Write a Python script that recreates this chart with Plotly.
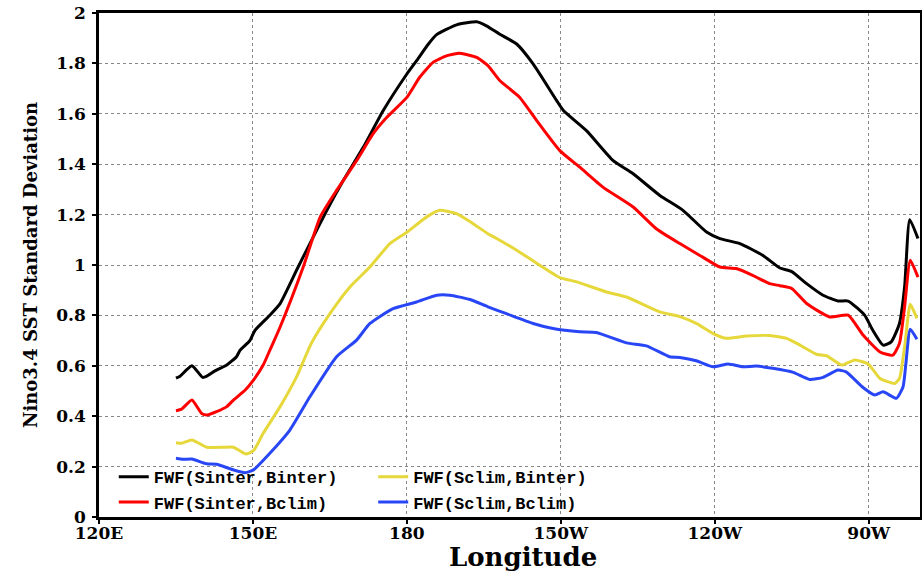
import plotly.graph_objects as go

# Longitude (degrees east) and Nino3.4 SST standard deviation
lon_sinter_binter = [135.0,135.8,138.1,140.2,141.0,142.6,144.9,146.8,147.5,149.4,
                     150.4,153.3,155.3,158.5,161.1,164.4,167.6,171.5,175.4,180.0,
                     181.9,184.2,185.8,189.7,193.6,195.5,198.1,201.4,204.6,209.2,
                     210.5,215.0,220.2,224.1,229.3,233.8,238.4,241.0,244.9,249.4,
                     252.7,255.0,257.9,261.1,264.0,266.0,269.2,270.8,272.8,274.4,
                     276.0,277.0,278.0,279.6]
sd_sinter_binter = [0.551,0.559,0.600,0.554,0.559,0.580,0.603,0.636,0.662,0.700,
                    0.741,0.801,0.847,0.979,1.085,1.217,1.335,1.467,1.613,1.758,
                    1.811,1.877,1.914,1.953,1.965,1.949,1.916,1.877,1.798,1.652,
                    1.613,1.533,1.414,1.362,1.276,1.217,1.131,1.105,1.085,1.038,
                    0.988,0.974,0.926,0.880,0.857,0.857,0.801,0.741,0.682,0.695,
                    0.768,0.913,1.180,1.105]

lon_sinter_bclim = [135.0,136.1,138.1,140.0,141.1,142.9,144.9,146.2,148.5,150.1,
                    152.0,153.3,155.3,159.8,163.1,166.3,170.2,173.4,176.1,180.0,
                    182.5,185.1,187.7,190.3,193.6,195.8,198.1,202.0,205.3,209.8,
                    213.7,218.2,224.1,228.6,233.2,237.1,241.0,244.2,247.4,250.7,
                    252.7,255.0,257.9,262.4,266.0,268.9,272.2,274.7,276.0,277.0,
                    278.1,279.6]
sd_sinter_bclim = [0.422,0.428,0.464,0.411,0.405,0.418,0.438,0.464,0.504,0.543,
                   0.603,0.662,0.754,0.992,1.190,1.296,1.414,1.520,1.586,1.665,
                   1.745,1.804,1.830,1.840,1.824,1.791,1.732,1.665,1.573,1.454,
                   1.388,1.309,1.230,1.144,1.085,1.038,0.992,0.986,0.959,0.926,
                   0.918,0.907,0.847,0.794,0.801,0.722,0.655,0.642,0.689,0.834,
                   1.019,0.952]

lon_sclim_binter = [135.0,136.1,138.1,141.0,144.2,146.2,148.6,150.1,152.0,155.3,
                    158.5,161.4,165.0,168.9,172.8,176.7,180.0,183.8,186.4,189.7,
                    192.9,195.8,197.5,202.0,205.9,209.8,213.1,218.9,222.8,229.3,
                    233.2,236.4,239.7,242.3,246.2,250.7,254.0,256.6,259.8,261.8,
                    264.7,267.3,269.9,272.2,275.1,276.0,277.0,278.1,279.4]
sd_sclim_binter = [0.295,0.293,0.306,0.277,0.277,0.277,0.250,0.263,0.332,0.438,
                   0.556,0.690,0.807,0.913,0.992,1.085,1.130,1.190,1.217,1.204,
                   1.164,1.124,1.105,1.051,0.999,0.950,0.933,0.893,0.873,0.814,
                   0.795,0.768,0.728,0.709,0.718,0.720,0.709,0.682,0.646,0.640,
                   0.603,0.623,0.607,0.550,0.530,0.550,0.675,0.844,0.788]

lon_sclim_bclim = [135.0,136.4,138.1,141.0,142.9,146.2,148.5,150.1,153.3,157.2,
                   161.1,166.3,170.2,172.8,177.3,181.9,185.8,188.4,192.3,195.8,
                   199.4,204.6,208.5,213.7,216.9,222.8,226.7,231.2,233.2,236.4,
                   239.7,242.6,245.5,248.1,251.3,255.3,258.5,261.1,264.0,265.6,
                   268.9,271.2,272.8,275.4,276.7,278.1,279.4]
sd_sclim_bclim = [0.233,0.229,0.230,0.211,0.209,0.187,0.176,0.187,0.253,0.345,
                  0.477,0.636,0.702,0.768,0.827,0.853,0.880,0.880,0.863,0.834,
                  0.807,0.768,0.748,0.735,0.732,0.691,0.679,0.636,0.633,0.620,
                  0.596,0.607,0.596,0.599,0.590,0.574,0.546,0.554,0.583,0.576,
                  0.514,0.484,0.497,0.471,0.517,0.745,0.705]

x_tickvals = [120, 150, 180, 210, 240, 270]
x_ticktext = ["120E", "150E", "180", "150W", "120W", "90W"]
y_tickvals = [0, 0.2, 0.4, 0.6, 0.8, 1.0, 1.2, 1.4, 1.6, 1.8, 2.0]
y_ticktext = ["0", "0.2", "0.4", "0.6", "0.8", "1", "1.2", "1.4", "1.6", "1.8", "2"]

series = [
    ("FWF(Sinter,Binter)", lon_sinter_binter, sd_sinter_binter, "#000000", "legend"),
    ("FWF(Sinter,Bclim)", lon_sinter_bclim, sd_sinter_bclim, "#ff0000", "legend"),
    ("FWF(Sclim,Binter)", lon_sclim_binter, sd_sclim_binter, "#e6d83a", "legend2"),
    ("FWF(Sclim,Bclim)", lon_sclim_bclim, sd_sclim_bclim, "#2846f5", "legend2"),
]

fig = go.Figure()
for name, xs, ys, col, lg in series:
    fig.add_trace(go.Scatter(x=xs, y=ys, mode="lines", name=name,
                             line=dict(color=col, width=3, shape="spline", smoothing=0.5),
                             legend=lg))

serif = "DejaVu Serif"
legfont = dict(family="Liberation Mono", size=17, color="black", weight="bold")
tickfont = dict(family=serif, size=17, color="black", weight="bold")

fig.update_layout(
    width=922, height=573,
    margin=dict(l=99, r=2, t=13, b=56),
    paper_bgcolor="white", plot_bgcolor="white",
    showlegend=True,
    legend=dict(x=0.018, y=0.054, xanchor="left", yanchor="middle",
                bgcolor="rgba(0,0,0,0)", font=legfont, itemwidth=30,
                tracegroupgap=0),
    legend2=dict(x=0.334, y=0.054, xanchor="left", yanchor="middle",
                 bgcolor="rgba(0,0,0,0)", font=legfont, itemwidth=30,
                 tracegroupgap=0),
    xaxis=dict(range=[120, 280], tickvals=x_tickvals, ticktext=x_ticktext,
               showgrid=True, gridcolor="#888888", griddash="dot", gridwidth=1,
               showline=True, linecolor="black", linewidth=2.5, mirror=True,
               ticks="outside", ticklen=4, tickwidth=2, tickcolor="black",
               ticklabelstandoff=-5,
               tickfont=tickfont, zeroline=False, automargin=False),
    yaxis=dict(range=[0, 2], tickvals=y_tickvals, ticktext=y_ticktext,
               showgrid=True, gridcolor="#888888", griddash="dot", gridwidth=1,
               showline=True, linecolor="black", linewidth=2.5, mirror=True,
               ticks="outside", ticklen=4, tickwidth=2, tickcolor="black",
               ticklabelstandoff=3,
               tickfont=tickfont, zeroline=False, automargin=False),
    annotations=[
        dict(text="Longitude", xref="paper", yref="paper", x=0.516, y=-0.079,
             xanchor="center", yanchor="middle", showarrow=False,
             font=dict(family=serif, size=26, color="black", weight="bold")),
        dict(text="Nino3.4 SST Standard Deviation", xref="paper", yref="paper",
             x=-0.084, y=0.5, xanchor="center", yanchor="middle", textangle=-90,
             showarrow=False,
             font=dict(family=serif, size=18, color="black", weight="bold")),
    ],
)

fig.write_html("out.html")
